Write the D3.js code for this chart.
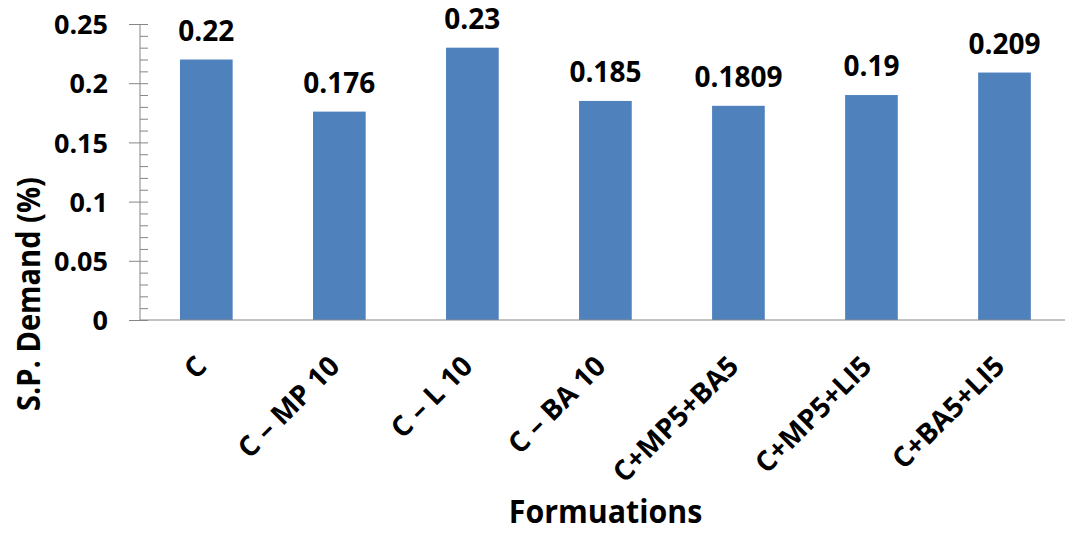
<!DOCTYPE html>
<html><head><meta charset="utf-8">
<script src="https://cdn.jsdelivr.net/npm/d3@7"></script>
<style>body{margin:0;background:#fff}svg{display:block}text{font-family:"Open Sans",sans-serif;font-weight:bold;fill:#000}</style>
</head><body><svg id="c" width="1065" height="533"></svg>
<script>
const categories = ["C", "C – MP 10", "C – L 10", "C – BA 10", "C+MP5+BA5", "C+MP5+LI5", "C+BA5+LI5"];
const values = [0.22, 0.176, 0.23, 0.185, 0.1809, 0.19, 0.209];
const valueLabels = ["0.22", "0.176", "0.23", "0.185", "0.1809", "0.19", "0.209"];
const yTicks = [0, 0.05, 0.1, 0.15, 0.2, 0.25];
const yTickLabels = ["0", "0.05", "0.1", "0.15", "0.2", "0.25"];
const yMinor = d3.range(0, 0.2501, 0.01);

const FONT = "Open Sans";
const svg = d3.select("#c");
const x = d3.scaleBand().domain(categories).range([139.8, 1071]).paddingInner(0.604).paddingOuter(0.302);
const y = d3.scaleLinear().domain([0, 0.25]).range([320, 24]);
const axisColor = "#868686";

svg.selectAll("rect.bar").data(values).join("rect").attr("class","bar")
  .attr("x",(d,i)=>x(categories[i])).attr("width",x.bandwidth())
  .attr("y",d=>y(d)).attr("height",d=>y(0)-y(d)).attr("fill","#4F81BD");

// minor ticks inside
const minorAxis = d3.axisRight(y).tickValues(yMinor).tickSize(8).tickFormat("");
const gm = svg.append("g").attr("transform","translate(140,0)").call(minorAxis);
gm.select(".domain").remove();
gm.selectAll("line").attr("stroke",axisColor);

const yAxis = d3.axisLeft(y).tickValues(yTicks).tickSize(11).tickPadding(21)
  .tickFormat((d,i)=>yTickLabels[i]);
const gy = svg.append("g").attr("transform","translate(140,0)").call(yAxis);
gy.select(".domain").attr("stroke",axisColor).attr("d","M0,320V24");
gy.selectAll("line").attr("stroke",axisColor);
gy.selectAll("text").attr("font-size",27).attr("font-family",FONT).attr("font-weight","bold").attr("fill","#000").attr("dy","0.36em");

const xAxis = d3.axisBottom(x).tickSize(0).tickPadding(0);
const gx = svg.append("g").attr("transform","translate(0,320)").call(xAxis);
gx.select(".domain").attr("stroke",axisColor).attr("d","M140,0H1065");
gx.selectAll("text").attr("font-size",28).attr("font-family",FONT).attr("font-weight","bold").attr("fill","#000")
  .attr("text-anchor","end").attr("transform","translate(-5,41) rotate(-45)").attr("dy","0.35em").attr("y",0);

svg.selectAll("text.vl").data(values).join("text").attr("class","vl")
  .attr("x",(d,i)=>x(categories[i])+x.bandwidth()/2).attr("y",d=>y(d)-19)
  .attr("text-anchor","middle").attr("font-size",28).text((d,i)=>valueLabels[i]);

svg.append("text").attr("transform","translate(605.5,523) scale(0.92,1)").attr("text-anchor","middle").attr("font-size",33).text("Formuations");
svg.append("text").attr("transform","translate(40,294) rotate(-90) scale(0.88,1)").attr("text-anchor","middle").attr("font-size",33).text("S.P. Demand (%)");
</script></body></html>
